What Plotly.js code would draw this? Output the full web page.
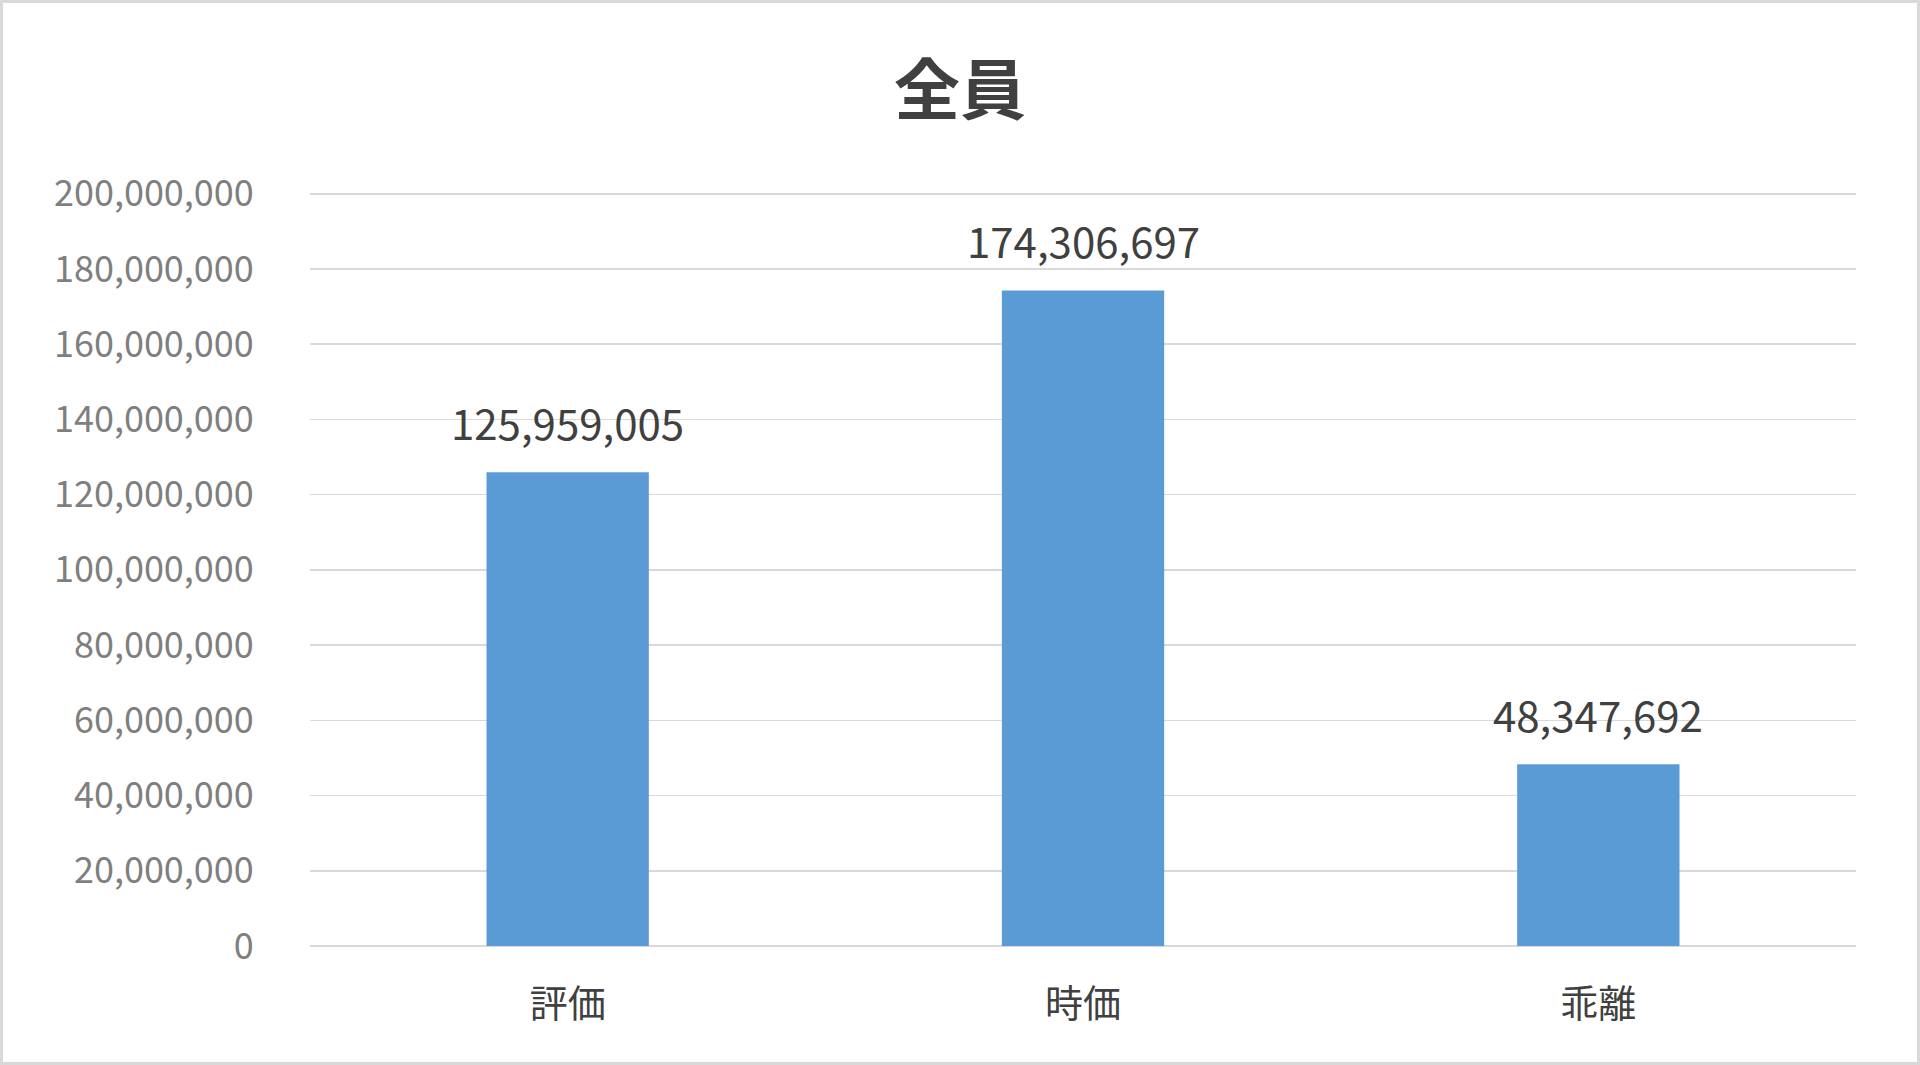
<!DOCTYPE html>
<html>
<head>
<meta charset="utf-8">
<script src="https://cdn.plot.ly/plotly-3.0.1.min.js"></script>
<style>
html,body{margin:0;padding:0;background:#fff;}
#wrap{width:1920px;height:1065px;box-sizing:border-box;border:3px solid #d9d9d9;background:#fff;}
#chart{width:1914px;height:1059px;}
</style>
</head>
<body>
<div id="wrap"><div id="chart"></div></div>
<script>
const categories = ['評価', '時価', '乖離'];
const values = [125959005, 174306697, 48347692];
const chartTitle = '全員';
const yTicks = [0, 20000000, 40000000, 60000000, 80000000, 100000000, 120000000, 140000000, 160000000, 180000000, 200000000];

const fontFamily = '"Noto Sans CJK JP", "Noto Sans", sans-serif';

const trace = {
  type: 'bar',
  x: categories,
  y: values,
  marker: {color: '#5b9bd5'},
  width: 0.315,
  hoverinfo: 'none'
};

const annotations = categories.map((c, i) => ({
  x: c, y: values[i], xref: 'x', yref: 'y',
  text: values[i].toLocaleString('en-US'),
  showarrow: false,
  yanchor: 'middle',
  yshift: 51,
  font: {family: fontFamily, size: 42, color: '#404040'}
}));

const layout = {
  width: 1914, height: 1059,
  paper_bgcolor: '#ffffff', plot_bgcolor: '#ffffff',
  margin: {l: 307, r: 61, t: 187, b: 116},
  showlegend: false,
  title: {
    text: chartTitle,
    font: {family: fontFamily, size: 66, color: '#404040', weight: 'bold'},
    x: 0.5, xanchor: 'center', xref: 'container',
    y: 1 - 88/1059, yanchor: 'middle', yref: 'container'
  },
  xaxis: {
    type: 'category',
    showgrid: false, zeroline: false, showline: false,
    ticks: 'outside', ticklen: 24, tickcolor: 'rgba(0,0,0,0)',
    tickfont: {family: fontFamily, size: 38, color: '#404040'}
  },
  yaxis: {
    range: [0, 201000000],
    tickvals: yTicks,
    tickformat: ',d',
    showgrid: true, gridcolor: '#d9d9d9', gridwidth: 1.5,
    zeroline: true, zerolinecolor: '#d9d9d9', zerolinewidth: 1.5,
    showline: false,
    ticks: 'outside', ticklen: 48, tickcolor: 'rgba(0,0,0,0)',
    tickfont: {family: fontFamily, size: 36, color: '#7f7f7f'}
  },
  annotations: annotations
};

Plotly.newPlot('chart', [trace], layout, {displayModeBar: false, staticPlot: true});
</script>
</body>
</html>
